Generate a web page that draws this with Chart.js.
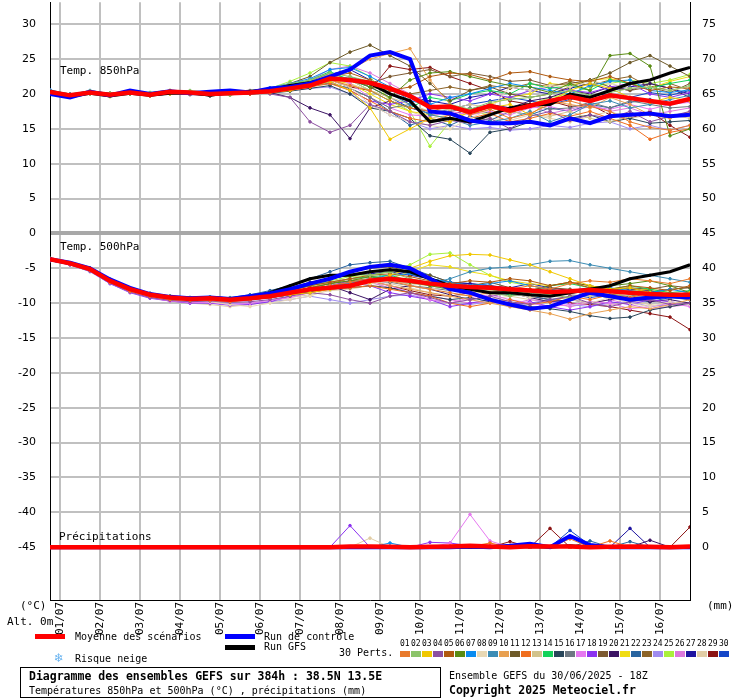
<!DOCTYPE html>
<html>
<head>
<meta charset="utf-8">
<script src="https://cdn.jsdelivr.net/npm/chart.js@4/dist/chart.umd.min.js"></script>
<style>
  body { margin: 0; background: #fff; }
  canvas { display: block; }
</style>
</head>
<body>
<canvas id="gefs" width="740" height="700"></canvas>
<script>
// échéances (heures depuis le 30/06 18Z), pas de 12h
const hours = [0,12,24,36,48,60,72,84,96,108,120,132,144,156,168,180,192,204,216,228,240,252,264,276,288,300,312,324,336,348,360,372,384];
const dayTicks = [6,30,54,78,102,126,150,174,198,222,246,270,294,318,342,366];
const dayLabels = ["01/07","02/07","03/07","04/07","05/07","06/07","07/07","08/07","09/07","10/07","11/07","12/07","13/07","14/07","15/07","16/07"];
const leftTicks = [30,25,20,15,10,5,0,-5,-10,-15,-20,-25,-30,-35,-40,-45];

const memberColors = ["#e87a2c","#8cc46a","#f0c800","#8c50a0","#b05a10","#5a8c14","#0a8cf0","#e8d8b4","#3c8cb4","#e8a050",
  "#6e5a28","#f06e1e","#d2c38c","#14d25a","#28465a","#6e7882","#e678f0","#8c32f0","#7d5a32","#3c1464",
  "#f0dc14","#2864a0","#8c6428","#a08cf0","#aaf03c","#dc78dc","#1e14a0","#e1cda5","#8c1414","#1446c8"];

// Temp. 850hPa
const mean850 = [20.3,19.8,20.2,19.9,20.2,19.9,20.3,20.2,20.0,20.1,20.2,20.4,20.8,21.2,22.2,22.0,21.6,20.8,19.7,18.1,18.2,17.4,18.3,17.6,18.3,19.0,19.6,19.0,19.8,19.4,19.0,18.6,19.3];
const ctrl850 = [20.0,19.5,20.3,19.8,20.5,20.0,20.4,20.1,20.3,20.5,20.2,20.8,21.0,21.5,22.5,23.5,25.5,26.0,25.0,17.5,17.2,16.2,15.8,15.8,16.0,15.5,16.5,15.8,16.8,17.0,17.2,16.8,17.0];
const gfs850 = [20.4,19.6,20.1,19.7,20.1,19.8,20.1,20.2,19.8,20.2,20.4,20.6,21.2,21.6,22.2,22.0,21.5,20.0,19.0,16.0,16.5,16.0,17.0,18.0,18.5,18.5,20.0,19.5,20.5,21.5,22.0,23.0,23.8];
const members850 = [
  [20.1,19.6,20.3,19.8,20.4,19.7,20.5,20.0,19.8,20.3,20.0,20.6,21.0,21.4,22.0,21.2,20.5,19.0,18.0,17.5,18.2,17.0,17.8,16.5,17.2,18.5,19.0,18.2,17.5,16.0,15.2,14.8,15.5],
  [20.4,19.9,20.0,20.1,20.0,20.2,20.1,20.5,20.2,19.8,20.4,20.8,21.5,22.0,23.0,22.5,21.8,21.0,19.5,18.0,18.5,17.8,18.8,19.2,19.5,20.0,20.5,19.8,20.2,20.8,21.0,20.5,21.2],
  [20.2,19.7,20.4,19.6,20.3,20.0,20.0,20.4,19.9,20.2,20.1,20.2,20.5,21.0,21.8,20.5,18.0,13.5,15.0,16.5,16.0,17.5,18.0,18.5,17.0,19.0,20.5,21.5,20.8,19.5,18.8,19.5,19.0],
  [20.5,20.0,20.1,20.0,20.1,19.8,20.2,20.3,20.1,20.0,20.5,20.0,19.5,16.0,14.5,15.5,18.5,17.5,16.0,15.5,16.2,15.8,16.5,15.0,16.8,17.5,16.2,17.0,16.5,17.5,16.0,16.8,17.5],
  [20.0,19.8,20.2,19.9,20.2,20.1,20.3,20.0,20.2,20.1,20.3,20.5,21.0,21.5,22.5,23.0,22.0,20.5,21.0,22.5,23.0,22.8,22.0,23.0,23.2,22.5,22.0,21.8,22.5,21.5,20.5,21.0,20.8],
  [20.3,19.8,20.3,20.0,20.0,19.9,20.4,20.1,19.9,20.3,20.1,20.7,21.2,21.8,22.5,22.0,21.0,19.5,22.0,23.0,23.2,22.5,21.8,21.2,21.0,20.2,21.5,20.5,25.5,25.8,24.0,14.0,15.0],
  [20.6,19.9,20.5,20.0,20.4,20.1,20.3,20.4,20.1,20.4,20.3,20.9,21.5,22.2,23.5,23.8,22.5,21.0,19.0,18.5,19.5,20.0,20.8,21.5,21.0,20.5,20.0,21.2,21.8,22.0,20.5,20.2,20.6],
  [20.1,19.7,20.1,19.8,20.2,19.9,20.0,20.1,19.8,20.0,20.1,20.3,20.8,21.5,22.0,21.0,18.5,17.0,16.0,15.5,15.0,16.5,17.8,21.0,20.5,21.2,21.0,21.8,21.5,20.8,21.0,20.5,21.0],
  [20.2,19.8,20.2,20.0,20.1,20.0,20.2,20.2,20.0,20.2,20.3,20.4,20.9,21.2,21.8,22.5,21.5,20.0,18.5,17.0,16.5,15.5,16.0,16.5,17.5,16.0,17.0,18.5,19.0,18.0,18.5,19.2,19.8],
  [20.3,19.7,20.0,19.9,20.3,19.8,20.1,20.0,20.0,20.1,20.2,20.5,21.0,21.5,22.0,23.5,25.0,25.8,26.5,22.0,18.5,17.5,18.0,17.2,18.5,19.0,18.5,18.0,19.5,18.5,17.0,16.5,17.5],
  [20.2,19.9,20.3,20.1,20.1,20.0,20.4,20.3,20.0,20.2,20.3,20.6,21.5,22.5,24.5,26.0,27.0,25.5,24.0,21.5,19.0,20.5,21.0,20.0,19.5,20.0,21.0,22.0,23.0,24.5,25.5,24.0,22.5],
  [20.0,19.6,20.2,19.8,20.1,19.8,20.1,20.0,19.9,20.0,20.0,20.2,20.5,21.0,21.5,20.5,19.0,17.5,16.5,16.0,17.0,16.5,17.2,16.0,16.5,17.2,16.8,17.5,16.5,15.5,13.5,14.5,15.0],
  [20.4,19.8,20.2,19.9,20.3,20.0,20.2,20.1,20.1,20.3,20.2,20.4,21.0,21.8,22.8,22.0,20.5,19.5,18.5,17.5,17.8,18.5,18.0,17.5,17.0,16.8,17.5,16.5,16.0,16.8,17.2,17.0,16.5],
  [20.5,20.0,20.4,20.1,20.3,20.2,20.5,20.2,20.2,20.4,20.4,20.8,21.3,22.0,23.2,22.0,20.5,19.0,18.0,19.5,19.0,20.0,20.5,20.0,21.5,20.8,21.2,20.5,22.0,21.5,20.8,21.5,22.0],
  [20.1,19.7,20.0,19.8,20.0,19.8,20.0,20.0,19.7,20.0,20.0,20.1,20.4,20.8,21.2,20.0,18.0,17.5,16.5,14.0,13.5,11.5,14.5,15.0,16.0,15.5,16.5,17.0,16.0,16.5,15.8,16.0,16.2],
  [20.2,19.8,20.1,19.9,20.2,19.9,20.2,20.1,20.0,20.1,20.2,20.3,20.7,21.3,21.5,20.8,19.5,18.0,18.5,17.0,17.5,18.0,17.2,18.0,18.5,17.8,18.0,18.8,18.0,19.0,18.5,18.0,18.2],
  [20.3,19.8,20.3,19.9,20.2,20.0,20.3,20.2,20.0,20.2,20.3,20.5,21.0,21.5,22.5,21.5,19.5,18.0,17.0,16.8,17.5,17.0,17.5,17.0,18.0,18.2,17.5,18.2,17.8,18.5,17.8,18.5,18.8],
  [20.4,19.9,20.2,20.0,20.1,20.1,20.2,20.4,20.1,20.3,20.2,20.6,21.0,21.2,21.8,20.5,19.0,18.5,19.0,20.0,19.5,19.0,20.0,19.5,20.5,21.0,20.5,20.2,21.0,21.5,20.0,19.5,20.2],
  [20.2,19.7,20.2,19.8,20.2,19.9,20.1,20.1,19.9,20.1,20.1,20.4,21.0,21.8,23.0,22.0,21.5,22.5,23.0,23.5,22.5,23.0,22.5,21.8,22.0,21.2,21.5,22.0,21.0,20.5,21.0,20.2,21.5],
  [20.1,19.6,20.0,19.8,20.0,19.7,20.0,19.9,19.8,19.9,20.0,20.2,19.5,18.0,17.0,13.6,18.0,19.0,18.0,17.5,17.0,17.8,18.5,18.0,19.0,19.5,20.5,20.0,21.0,20.5,21.5,20.8,19.5],
  [20.3,19.8,20.1,19.9,20.2,20.0,20.2,20.2,20.0,20.2,20.2,20.5,21.0,21.5,22.0,21.5,20.0,18.5,17.5,17.0,16.5,17.5,18.5,19.5,20.0,21.5,21.2,22.0,22.2,21.5,20.8,21.8,22.5],
  [20.2,19.8,20.2,19.9,20.1,20.0,20.1,20.2,19.9,20.1,20.1,20.3,20.8,21.2,21.5,20.8,19.5,17.5,15.5,16.5,15.5,16.8,16.2,17.5,17.0,18.0,17.5,18.5,18.0,18.8,19.2,18.5,19.0],
  [20.4,19.9,20.3,20.0,20.3,20.1,20.4,20.3,20.1,20.3,20.3,20.7,21.2,21.5,22.0,22.2,21.0,20.5,20.0,20.5,21.0,20.5,21.2,20.8,21.5,21.0,21.8,21.2,22.0,22.5,21.0,21.5,20.5],
  [20.1,19.7,20.1,19.8,20.1,19.8,20.0,20.0,19.8,20.0,20.0,20.2,20.5,20.8,21.0,20.0,18.5,17.0,16.0,15.0,15.5,15.0,15.2,14.8,15.0,15.5,15.2,15.8,16.0,15.0,15.5,14.8,15.5],
  [20.5,20.0,20.3,20.0,20.2,20.1,20.3,20.3,20.1,20.3,20.4,20.8,21.8,23.0,24.5,24.0,22.5,19.0,17.5,12.5,16.0,17.5,17.0,18.0,18.5,19.5,20.0,21.0,21.5,22.0,21.5,22.0,22.8],
  [20.2,19.8,20.2,20.0,20.2,20.0,20.2,20.1,20.0,20.2,20.2,20.4,21.0,22.0,23.5,24.0,23.0,21.5,20.0,18.5,18.0,17.5,18.5,18.0,18.5,17.2,17.8,18.5,17.5,18.0,17.0,17.5,18.0],
  [20.3,19.9,20.3,20.0,20.2,20.1,20.3,20.2,20.0,20.3,20.2,20.5,21.0,21.8,22.8,23.5,22.0,20.5,19.5,19.0,18.5,19.5,20.0,21.0,20.5,20.0,20.8,21.5,20.5,21.0,21.5,20.8,20.0],
  [20.0,19.6,20.1,19.8,20.1,19.8,20.1,20.0,19.8,20.0,20.1,20.3,20.8,21.2,22.0,21.5,20.5,19.5,17.5,16.5,17.0,16.0,16.5,16.2,17.0,16.5,16.0,16.8,17.5,16.5,17.0,16.8,17.2],
  [20.3,19.8,20.2,19.9,20.2,19.9,20.2,20.1,20.0,20.2,20.2,20.5,21.0,21.5,22.0,21.0,20.5,24.0,23.5,23.8,22.5,21.5,20.5,19.0,18.5,19.0,18.2,18.5,17.0,16.5,17.5,15.5,13.8],
  [20.4,19.9,20.4,20.0,20.3,20.1,20.4,20.3,20.1,20.3,20.3,20.6,21.2,21.8,22.5,22.0,21.0,19.5,18.0,17.2,17.8,18.5,19.0,19.5,19.0,18.5,19.2,19.8,20.0,19.5,20.2,19.8,20.5]
];

// Temp. 500hPa
const mean500 = [-3.7,-4.3,-5.1,-6.8,-8.0,-8.8,-9.2,-9.4,-9.3,-9.5,-9.3,-9.0,-8.5,-8.0,-7.8,-7.5,-6.8,-6.5,-6.8,-7.2,-7.5,-7.7,-7.8,-8.0,-8.2,-8.4,-8.3,-8.1,-8.3,-8.5,-8.7,-8.8,-8.8];
const ctrl500 = [-3.7,-4.2,-5.0,-6.6,-7.8,-8.7,-9.1,-9.3,-9.2,-9.4,-9.0,-8.6,-8.0,-7.2,-6.5,-5.5,-4.8,-4.5,-5.0,-6.5,-8.0,-8.5,-9.5,-10.2,-10.8,-10.5,-9.5,-8.5,-9.0,-9.5,-9.2,-9.0,-9.2];
const gfs500 = [-3.7,-4.3,-5.1,-6.8,-8.0,-8.8,-9.2,-9.3,-9.2,-9.4,-9.1,-8.5,-7.5,-6.5,-6.0,-6.0,-5.5,-5.2,-5.5,-6.5,-7.5,-8.0,-8.5,-8.5,-8.8,-9.0,-8.5,-8.0,-7.5,-6.5,-6.0,-5.5,-4.5];
const members500 = [
  [-3.8,-4.4,-5.3,-7.0,-8.3,-9.0,-9.5,-9.6,-9.6,-9.8,-9.5,-9.2,-8.5,-8.0,-7.5,-7.0,-6.5,-6.8,-7.5,-8.0,-8.5,-9.0,-8.5,-8.0,-7.5,-8.0,-7.2,-6.8,-7.0,-6.5,-6.8,-7.2,-6.5],
  [-3.6,-4.2,-5.0,-6.6,-7.8,-8.6,-9.0,-9.2,-9.1,-9.3,-9.0,-8.5,-8.0,-7.2,-6.5,-5.8,-6.0,-5.5,-6.5,-7.0,-7.5,-8.0,-8.5,-9.0,-8.5,-8.8,-9.2,-8.5,-9.0,-9.5,-8.8,-9.2,-9.0],
  [-3.7,-4.3,-5.2,-6.9,-8.0,-8.9,-9.3,-9.5,-9.4,-9.4,-9.2,-9.0,-8.8,-8.5,-8.0,-7.5,-7.0,-6.0,-5.0,-4.0,-3.2,-3.0,-3.1,-3.8,-4.5,-5.5,-6.5,-7.5,-8.0,-7.8,-8.5,-9.0,-8.5],
  [-3.9,-4.5,-5.4,-7.1,-8.4,-9.2,-9.6,-9.8,-9.7,-9.9,-9.8,-9.5,-9.0,-8.5,-8.8,-9.5,-10.0,-9.0,-8.5,-9.2,-10.0,-9.5,-9.0,-9.8,-10.2,-9.5,-9.0,-10.0,-10.5,-9.8,-9.5,-10.2,-10.0],
  [-3.7,-4.3,-5.1,-6.7,-7.9,-8.7,-9.1,-9.3,-9.2,-9.4,-9.1,-8.8,-8.2,-7.5,-7.0,-6.5,-6.0,-5.8,-6.2,-6.8,-7.2,-6.8,-7.0,-6.5,-6.8,-7.5,-7.0,-7.8,-8.0,-7.5,-7.8,-8.2,-7.5],
  [-3.6,-4.2,-5.0,-6.6,-7.9,-8.7,-9.0,-9.3,-9.2,-9.4,-9.2,-8.8,-8.4,-7.8,-7.2,-6.8,-6.2,-6.5,-7.0,-7.5,-8.0,-8.2,-7.8,-8.5,-8.0,-8.8,-8.5,-8.0,-7.5,-7.2,-6.8,-7.5,-8.5],
  [-3.8,-4.3,-5.2,-6.8,-8.1,-8.9,-9.3,-9.5,-9.4,-9.6,-9.4,-9.0,-8.6,-8.0,-7.5,-7.2,-6.5,-6.0,-5.8,-6.5,-7.0,-7.5,-7.2,-6.8,-7.5,-8.0,-8.5,-8.2,-7.8,-8.2,-8.5,-8.0,-8.5],
  [-3.7,-4.4,-5.3,-7.0,-8.2,-9.0,-9.4,-9.7,-9.8,-10.2,-10.5,-10.0,-9.5,-9.0,-8.0,-7.5,-7.2,-6.8,-7.5,-8.0,-7.5,-8.2,-8.8,-8.5,-9.2,-8.8,-9.5,-10.0,-9.2,-10.0,-10.5,-9.8,-10.2],
  [-3.7,-4.3,-5.1,-6.8,-8.0,-8.8,-9.2,-9.4,-9.3,-9.5,-9.3,-9.0,-8.5,-8.0,-7.5,-7.0,-6.5,-6.2,-6.8,-7.2,-6.5,-5.5,-5.0,-4.8,-4.5,-4.0,-3.9,-4.5,-5.0,-5.5,-6.0,-6.5,-7.0],
  [-3.8,-4.4,-5.2,-6.9,-8.1,-9.0,-9.4,-9.6,-9.5,-9.6,-9.4,-9.0,-8.4,-7.8,-7.0,-6.5,-6.8,-7.5,-8.0,-8.5,-9.0,-9.5,-10.0,-10.5,-11.0,-11.5,-12.3,-11.5,-11.0,-10.5,-10.8,-10.2,-9.5],
  [-3.6,-4.2,-5.0,-6.7,-7.9,-8.7,-9.2,-9.4,-9.3,-9.5,-9.2,-8.8,-8.0,-7.2,-6.5,-5.5,-5.0,-4.8,-5.5,-6.0,-7.0,-7.5,-7.0,-7.8,-8.2,-7.5,-7.0,-7.5,-8.0,-7.8,-8.5,-8.0,-7.8],
  [-3.8,-4.4,-5.3,-7.0,-8.2,-9.1,-9.5,-9.7,-9.6,-9.7,-9.5,-9.2,-8.8,-8.5,-8.0,-7.8,-7.5,-8.0,-8.5,-9.0,-10.0,-10.5,-10.0,-9.5,-10.2,-9.8,-9.0,-9.5,-8.8,-9.2,-8.5,-9.0,-9.5],
  [-3.7,-4.3,-5.2,-6.8,-8.0,-8.9,-9.3,-9.5,-9.4,-9.6,-9.4,-9.1,-8.7,-8.2,-7.8,-7.2,-7.0,-6.8,-7.2,-7.5,-8.0,-7.8,-8.2,-8.5,-8.0,-8.5,-8.8,-9.0,-8.5,-9.0,-9.2,-8.8,-9.2],
  [-3.6,-4.2,-5.1,-6.7,-7.9,-8.7,-9.1,-9.3,-9.2,-9.4,-9.1,-8.7,-8.2,-7.5,-7.0,-6.5,-6.2,-6.0,-6.8,-7.5,-8.0,-8.5,-8.0,-8.8,-8.2,-7.5,-7.2,-7.8,-8.0,-7.5,-8.0,-8.5,-8.2],
  [-3.8,-4.4,-5.3,-7.0,-8.2,-9.0,-9.4,-9.6,-9.5,-9.7,-9.5,-9.2,-8.8,-8.4,-8.0,-7.8,-7.5,-7.8,-8.5,-9.0,-9.5,-9.2,-9.8,-10.0,-10.5,-10.8,-11.2,-11.8,-12.2,-12.0,-11.0,-10.5,-10.0],
  [-3.7,-4.3,-5.2,-6.9,-8.1,-8.9,-9.3,-9.5,-9.4,-9.6,-9.3,-9.0,-8.6,-8.1,-7.6,-7.2,-6.9,-7.0,-7.5,-7.8,-8.2,-8.0,-8.5,-8.8,-9.0,-8.5,-8.2,-8.8,-9.2,-8.8,-9.5,-9.0,-9.2],
  [-3.8,-4.5,-5.4,-7.1,-8.4,-9.2,-9.7,-9.9,-9.9,-10.2,-10.0,-9.6,-9.2,-8.5,-8.0,-7.2,-6.8,-7.5,-8.5,-9.5,-10.0,-9.2,-8.8,-9.5,-10.0,-10.5,-10.2,-9.8,-10.0,-10.8,-10.5,-10.0,-10.5],
  [-3.9,-4.5,-5.4,-7.2,-8.5,-9.3,-9.7,-10.0,-10.0,-10.3,-10.2,-9.8,-9.0,-8.2,-7.5,-6.8,-7.5,-8.5,-9.0,-9.5,-10.5,-10.0,-9.5,-10.2,-9.8,-10.5,-11.0,-10.5,-9.8,-10.2,-9.5,-9.8,-10.2],
  [-3.7,-4.3,-5.1,-6.8,-8.0,-8.8,-9.2,-9.4,-9.3,-9.5,-9.3,-9.0,-8.5,-7.8,-7.2,-6.8,-6.5,-6.2,-6.8,-7.2,-7.8,-7.5,-8.0,-7.8,-8.2,-7.8,-8.0,-8.5,-8.2,-7.8,-8.0,-7.5,-7.8],
  [-3.6,-4.3,-5.2,-6.9,-8.2,-9.0,-9.5,-9.7,-9.6,-9.7,-9.5,-9.2,-8.8,-8.4,-7.5,-8.5,-9.5,-8.0,-7.5,-8.0,-8.8,-9.5,-9.0,-8.5,-9.2,-9.8,-9.5,-10.0,-9.5,-9.0,-9.8,-9.5,-10.0],
  [-3.7,-4.3,-5.2,-6.8,-8.0,-8.8,-9.2,-9.4,-9.4,-9.6,-9.4,-9.2,-8.8,-8.5,-8.0,-7.5,-7.2,-6.5,-5.5,-4.5,-4.8,-5.5,-6.0,-6.8,-7.2,-7.5,-7.0,-7.5,-8.0,-8.2,-8.0,-8.5,-9.0],
  [-3.6,-4.2,-5.0,-6.6,-7.8,-8.6,-9.0,-9.2,-9.1,-9.2,-8.8,-8.2,-7.5,-6.5,-5.5,-4.5,-4.2,-4.0,-5.0,-6.0,-7.0,-7.5,-8.0,-8.5,-9.0,-9.5,-9.2,-8.8,-9.2,-9.5,-9.8,-9.2,-9.5],
  [-3.8,-4.4,-5.2,-6.9,-8.1,-8.9,-9.3,-9.5,-9.4,-9.6,-9.4,-9.0,-8.5,-7.8,-7.2,-6.5,-6.2,-6.8,-7.2,-7.0,-7.5,-8.0,-7.5,-8.2,-8.5,-8.0,-8.5,-8.2,-8.8,-8.5,-8.2,-8.8,-8.5],
  [-3.9,-4.5,-5.5,-7.2,-8.4,-9.2,-9.7,-9.9,-9.9,-10.1,-10.0,-9.8,-9.5,-9.0,-9.5,-10.0,-9.5,-9.0,-8.8,-9.5,-10.0,-10.2,-9.8,-10.5,-10.0,-9.5,-10.2,-10.5,-10.0,-9.8,-10.5,-10.2,-10.0],
  [-3.7,-4.3,-5.1,-6.8,-8.0,-8.8,-9.3,-9.5,-9.4,-9.5,-9.2,-8.8,-8.2,-7.5,-6.8,-6.2,-6.0,-5.5,-4.5,-3.0,-2.8,-4.5,-6.0,-7.0,-7.5,-8.0,-8.5,-8.2,-8.8,-9.0,-8.5,-9.2,-8.8],
  [-3.8,-4.4,-5.3,-7.0,-8.2,-9.0,-9.4,-9.6,-9.6,-9.8,-9.6,-9.2,-8.8,-8.2,-7.8,-7.5,-7.0,-7.8,-8.5,-9.0,-9.5,-10.0,-9.8,-10.2,-9.5,-9.8,-10.5,-10.0,-9.5,-10.2,-10.8,-10.5,-10.2],
  [-3.6,-4.2,-5.0,-6.6,-7.8,-8.6,-9.0,-9.2,-9.1,-9.3,-9.0,-8.4,-7.8,-7.0,-6.5,-6.0,-5.8,-5.5,-6.0,-6.5,-7.0,-7.2,-7.5,-7.8,-7.2,-7.8,-8.2,-7.8,-8.5,-8.0,-8.2,-8.8,-8.5],
  [-3.8,-4.5,-5.4,-7.1,-8.4,-9.2,-9.7,-10.0,-10.2,-10.5,-10.2,-9.8,-9.2,-8.8,-8.2,-8.0,-7.5,-7.2,-7.8,-8.5,-9.0,-8.8,-9.5,-9.0,-9.5,-10.0,-10.5,-9.8,-10.2,-9.8,-10.2,-10.5,-10.0],
  [-3.7,-4.3,-5.2,-6.9,-8.1,-8.9,-9.3,-9.5,-9.4,-9.6,-9.4,-9.0,-8.5,-8.0,-7.6,-7.0,-6.8,-7.5,-8.2,-8.8,-9.0,-8.5,-8.0,-8.5,-9.0,-9.5,-10.0,-10.2,-10.5,-11.0,-11.5,-12.0,-13.8],
  [-3.7,-4.3,-5.1,-6.7,-7.9,-8.7,-9.1,-9.3,-9.2,-9.4,-9.1,-8.6,-8.0,-7.2,-6.5,-6.0,-5.5,-5.2,-5.8,-6.5,-7.0,-7.2,-7.5,-8.0,-8.5,-8.2,-8.8,-9.2,-8.8,-9.5,-9.0,-8.8,-9.2]
];

// Précipitations (mm)
const noRain    = [0,0,0,0,0,0,0,0,0,0,0,0,0,0,0,0,0,0,0,0,0,0,0,0,0,0,0,0,0,0,0,0,0];
const rainMean  = [0,0,0,0,0,0,0,0,0,0,0,0,0,0,0,0.1,0.1,0.05,0,0.05,0.1,0.2,0.1,0,0.15,0.1,0.1,0,0.05,0.1,0.05,0,0.1];
const rainCtrl  = [0,0,0,0,0,0,0,0,0,0,0,0,0,0,0,0,0,0,0,0,0,0.1,0,0.2,0.5,0,1.6,0.3,0,0,0,0,0];
const rainGfs   = [0,0,0,0,0,0,0,0,0,0,0,0,0,0,0,0,0,0,0,0,0,0,0,0,0.1,0,0.2,0,0,0,0,0,0];
const rain07    = [0,0,0,0,0,0,0,0,0,0,0,0,0,0,0,0,0,0.6,0,0,0,0,0,0,0,0,0,0,0,0,0,0,0];
const rain12    = [0,0,0,0,0,0,0,0,0,0,0,0,0,0,0,0,0,0,0,0,0,0.1,0.6,0,0,0,1.2,0,0.9,0,0,0,0];
const rain17    = [0,0,0,0,0,0,0,0,0,0,0,0,0,0,0,0,0,0,0,0,0.6,4.7,0.9,0,0,0,0,0,0,0,0,0,0];
const rain18    = [0,0,0,0,0,0,0,0,0,0,0,0,0,0,0,3.1,0,0,0,0.7,0.6,0.2,0,0,0,0,0,0,0,0,0,0,0];
const rain20    = [0,0,0,0,0,0,0,0,0,0,0,0,0,0,0,0,0,0,0,0,0,0,0,0,0,0,0,0,0,0,1.0,0,0];
const rain22    = [0,0,0,0,0,0,0,0,0,0,0,0,0,0,0,0,0,0,0,0,0,0,0,0,0,0,0,0.9,0,0.8,0,0,0];
const rain27    = [0,0,0,0,0,0,0,0,0,0,0,0,0,0,0,0,0,0,0,0,0,0,0,0,0,0,0,0,0,2.7,0,0,0];
const rain28    = [0,0,0,0,0,0,0,0,0,0,0,0,0,0,0,0,1.3,0,0,0,0,0,0,0,0,0,0,0,0,0,0,0,0];
const rain29    = [0,0,0,0,0,0,0,0,0,0,0,0,0,0,0,0,0,0,0,0,0,0,0,0.8,0,2.7,0,0,0,0,0,0,2.9];
const rain30    = [0,0,0,0,0,0,0,0,0,0,0,0,0,0,0,0,0,0,0,0,0,0,0,0,0,0,2.4,0.3,0,0,0,0,0];
const rainByMember = { 7: rain07, 12: rain12, 17: rain17, 18: rain18, 20: rain20, 22: rain22, 27: rain27, 28: rain28, 29: rain29, 30: rain30 };

const PRECIP_ZERO = -45; // 0 mm sur l'échelle de gauche
const pts = (arr, off) => arr.map((v, i) => ({ x: hours[i], y: v + (off || 0) }));

const datasets = [];
function line(data, color, width, radius) {
  datasets.push({ data, borderColor: color, backgroundColor: color, borderWidth: width,
    pointRadius: radius, pointHoverRadius: 0, tension: 0, fill: false });
}
// ordre: le premier est dessiné au-dessus
line(pts(mean850), "#ff0000", 4.5, 0);
line(pts(mean500), "#ff0000", 4.5, 0);
line(pts(rainMean, PRECIP_ZERO), "#ff0000", 4.5, 0);
line(pts(ctrl850), "#0000ff", 4, 0);
line(pts(ctrl500), "#0000ff", 4, 0);
line(pts(rainCtrl, PRECIP_ZERO), "#0000ff", 4, 0);
line(pts(gfs850), "#000000", 3, 0);
line(pts(gfs500), "#000000", 3, 0);
line(pts(rainGfs, PRECIP_ZERO), "#000000", 3, 0);
for (let m = 0; m < 30; m++) {
  const c = memberColors[m];
  line(pts(members850[m]), c, 1, 1.3);
  line(pts(members500[m]), c, 1, 1.3);
  line(pts(rainByMember[m + 1] || noRain, PRECIP_ZERO), c, 1, 1.3);
}

const Y_MAX = 232 / 7, Y_MIN = -368 / 7;
const MONO = "'DejaVu Sans Mono', monospace";

// textes et légende autour du graphique
const decor = {
  id: "decor",
  afterDraw(chart) {
    const c = chart.ctx;
    c.save();
    c.fillStyle = "#000";
    c.textBaseline = "middle";
    c.font = "11px " + MONO;
    c.fillText("Temp. 850hPa", 60, 71);
    c.fillText("Temp. 500hPa", 60, 247);
    c.fillText("Précipitations", 59, 537);
    c.fillText("(°C)", 20, 606);
    c.fillText("Alt. 0m", 7, 622);
    c.fillText("(mm)", 707, 606);

    c.fillStyle = "#ff0000"; c.fillRect(35, 634, 30, 5);
    c.fillStyle = "#0000ff"; c.fillRect(225, 634, 30, 5);
    c.fillStyle = "#000000"; c.fillRect(225, 645, 30, 5);
    c.fillStyle = "#000";
    c.font = "10px " + MONO;
    c.fillText("Moyenne des scénarios", 75, 637);
    c.fillText("Run de contrôle", 264, 637);
    c.fillText("Run GFS", 264, 647);
    c.fillText("30 Perts.", 339, 653);
    c.fillText("Risque neige", 75, 659);
    c.fillStyle = "#6ab4f0"; c.font = "12px 'DejaVu Sans'";
    c.fillText("❄", 54, 659);

    c.font = "8px " + MONO;
    for (let m = 0; m < 30; m++) {
      const x = 400 + m * 11;
      c.fillStyle = "#000";
      c.fillText(String(m + 1).padStart(2, "0"), x, 644);
      c.fillStyle = memberColors[m];
      c.fillRect(x, 651, 10, 6);
    }

    c.strokeStyle = "#000"; c.lineWidth = 1;
    c.strokeRect(20.5, 667.5, 420, 30);
    c.fillStyle = "#000";
    c.font = "bold 11.5px " + MONO;
    c.fillText("Diagramme des ensembles GEFS sur 384h : 38.5N 13.5E", 29, 677);
    c.fillText("Copyright 2025 Meteociel.fr", 449, 691);
    c.font = "10px " + MONO;
    c.fillText("Températures 850hPa et 500hPa (°C) , précipitations (mm)", 29, 691);
    c.fillText("Ensemble GEFS du 30/06/2025 - 18Z", 449, 676);
    c.restore();
  }
};

new Chart(document.getElementById("gefs"), {
  type: "line",
  data: { datasets },
  plugins: [decor],
  options: {
    responsive: false,
    animation: false,
    devicePixelRatio: 1,
    layout: { padding: 0 },
    plugins: { legend: { display: false }, tooltip: { enabled: false } },
    scales: {
      x: {
        type: "linear", min: 0, max: 384,
        afterBuildTicks: s => { s.ticks = dayTicks.map(v => ({ value: v })); },
        afterFit: s => { s.height = 100; s.paddingLeft = 0; s.paddingRight = 0; },
        ticks: {
          autoSkip: false, minRotation: 90, maxRotation: 90, padding: 2,
          color: "#000", font: { family: MONO, size: 11 },
          callback: v => dayLabels[dayTicks.indexOf(v)] || ""
        },
        grid: { color: "#c0c0c0", lineWidth: 2, drawTicks: false },
        border: { color: "#000" }
      },
      y: {
        position: "left", min: Y_MIN, max: Y_MAX,
        afterBuildTicks: s => { s.ticks = leftTicks.map(v => ({ value: v })); },
        afterFit: s => { s.width = 50; s.paddingTop = 0; s.paddingBottom = 0; },
        ticks: {
          padding: 14, color: "#000", font: { family: "'DejaVu Sans'", size: 11 }
        },
        grid: {
          drawTicks: false,
          color: ctx => (ctx.tick.value === 0 ? "#a8a8a8" : "#c0c0c0"),
          lineWidth: ctx => (ctx.tick.value === 0 ? 4 : 2)
        },
        border: { color: "#000" }
      },
      y2: {
        position: "right", min: Y_MIN, max: Y_MAX,
        afterBuildTicks: s => { s.ticks = leftTicks.map(v => ({ value: v })); },
        afterFit: s => { s.width = 50; s.paddingTop = 0; s.paddingBottom = 0; },
        ticks: {
          padding: 12, color: "#000", font: { family: "'DejaVu Sans'", size: 11 },
          callback: v => v + 45
        },
        grid: { drawOnChartArea: false, drawTicks: false },
        border: { color: "#000" }
      }
    }
  }
});
</script>
</body>
</html>
